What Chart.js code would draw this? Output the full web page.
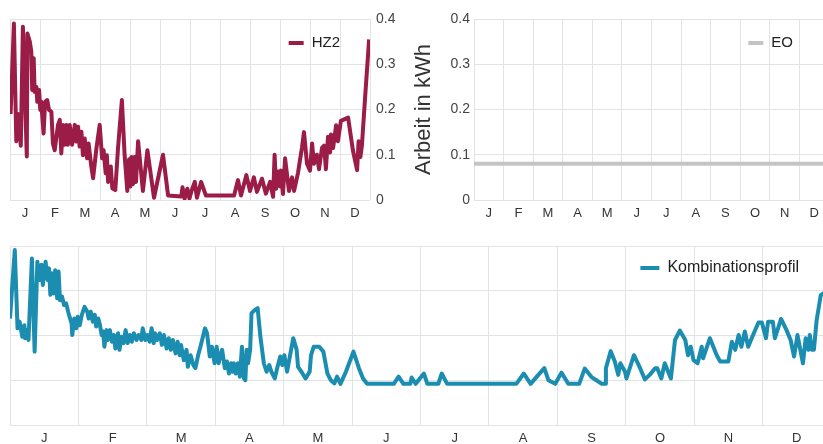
<!DOCTYPE html>
<html lang="de">
<head>
<meta charset="utf-8">
<script src="https://cdn.jsdelivr.net/npm/chart.js@4.4.1/dist/chart.umd.min.js"></script>
<style>
  html, body { margin: 0; padding: 0; background: #fff; overflow: hidden; }
  body { width: 823px; height: 444px; position: relative; }
  canvas { position: absolute; }
  #cHZ2 { left: 0; top: 0; }
  #cEO { left: 405px; top: 0; }
  #cKombi { left: 0; top: 228px; }
</style>
</head>
<body>
<canvas id="cHZ2" width="400" height="226"></canvas>
<canvas id="cEO" width="430" height="226"></canvas>
<canvas id="cKombi" width="840" height="216"></canvas>
<script>
// Monate (Achsenbeschriftung)
const months = ['J', 'F', 'M', 'A', 'M', 'J', 'J', 'A', 'S', 'O', 'N', 'D'];
const yTicks = [0, 0.1, 0.2, 0.3, 0.4];

// HZ2 - Position im Jahr (in Monaten) und Arbeit in kWh
const hz2Month = [
  0.02,0.13,0.21,0.27,0.36,0.43,0.56,0.58,0.66,0.71,
  0.74,0.79,0.82,0.88,0.91,0.97,1.01,1.04,1.12,1.17,
  1.24,1.3,1.38,1.43,1.49,1.6,1.66,1.71,1.77,1.82,
  1.88,1.93,1.99,2.07,2.16,2.21,2.27,2.32,2.38,2.43,
  2.49,2.57,2.62,2.71,2.77,2.88,2.99,3.07,3.12,3.19,
  3.23,3.27,3.36,3.41,3.51,3.6,3.73,3.82,3.91,3.97,
  4.01,4.05,4.1,4.15,4.2,4.27,4.43,4.58,4.8,5.1,
  5.27,5.71,5.75,5.82,5.91,5.98,6.05,6.16,6.23,6.37,
  6.53,7.47,7.6,7.7,7.88,8.0,8.13,8.23,8.4,8.53,
  8.67,8.77,8.82,8.87,8.93,9.0,9.03,9.1,9.17,9.3,
  9.4,9.47,9.6,9.73,9.8,9.9,10.0,10.07,10.13,10.23,
  10.3,10.4,10.47,10.53,10.6,10.67,10.7,10.77,10.87,10.93,
  11.03,11.27,11.43,11.57,11.62,11.68,11.73,11.83,11.97
];
const hz2Value = [
  0.19,0.39,0.13,0.19,0.12,0.383,0.096,0.368,0.35,0.328,
  0.243,0.313,0.239,0.25,0.217,0.243,0.199,0.217,0.147,0.217,
  0.221,0.199,0.195,0.125,0.11,0.166,0.177,0.103,0.166,0.122,
  0.166,0.122,0.166,0.122,0.166,0.129,0.162,0.118,0.151,0.099,
  0.136,0.092,0.125,0.074,0.048,0.114,0.166,0.092,0.11,0.059,
  0.099,0.04,0.074,0.026,0.022,0.114,0.221,0.1,0.02,0.09,
  0.03,0.095,0.035,0.095,0.04,0.13,0.02,0.11,0.005,0.1,
  0.01,0.008,0.028,0.003,0.025,0.003,0.02,0.04,0.005,0.04,
  0.01,0.01,0.044,0.01,0.055,0.02,0.05,0.018,0.047,0.014,
  0.04,0.007,0.1,0.025,0.063,0.03,0.065,0.013,0.092,0.02,
  0.05,0.02,0.06,0.115,0.15,0.08,0.065,0.125,0.08,0.1,
  0.068,0.115,0.12,0.068,0.14,0.105,0.145,0.115,0.165,0.13,
  0.175,0.182,0.11,0.066,0.13,0.095,0.12,0.22,0.355
];

// EO - konstante Grundlast
const eoMonth = [0, 12];
const eoValue = [0.08, 0.08];

// Kombinationsprofil
const kombiMonth = [
  0,0.07,0.11,0.14,0.18,0.21,0.22,0.25,0.27,0.32,
  0.36,0.4,0.43,0.46,0.48,0.52,0.55,0.57,0.59,0.61,
  0.64,0.66,0.69,0.71,0.73,0.76,0.79,0.82,0.85,0.87,
  0.9,0.91,0.94,0.97,0.99,1.02,1.05,1.09,1.13,1.15,
  1.18,1.21,1.24,1.26,1.29,1.31,1.34,1.36,1.38,1.41,
  1.43,1.46,1.49,1.52,1.54,1.58,1.6,1.63,1.66,1.69,
  1.72,1.75,1.78,1.81,1.85,1.88,1.92,1.94,1.98,2.01,
  2.04,2.07,2.1,2.12,2.15,2.19,2.22,2.25,2.29,2.32,
  2.35,2.38,2.42,2.45,2.48,2.5,2.54,2.58,2.6,2.64,
  2.68,2.71,2.75,2.79,2.85,2.88,2.92,2.95,2.99,3.02,
  3.05,3.08,3.1,3.14,3.17,3.2,3.23,3.25,3.27,3.3,
  3.33,3.36,3.39,3.42,3.44,3.46,3.48,3.51,3.53,3.58,
  3.62,3.66,3.71,3.75,3.79,3.82,3.87,3.91,3.95,3.98,
  4.01,4.05,4.09,4.14,4.19,4.21,4.26,4.32,4.38,4.4,
  4.44,4.52,4.58,4.64,4.69,4.74,4.78,4.83,4.91,5.02,
  5.1,5.16,5.22,5.61,5.68,5.75,5.85,5.87,5.93,5.99,
  6.05,6.1,6.26,6.31,6.39,7.4,7.51,7.61,7.7,7.81,
  7.87,7.97,8.06,8.16,8.32,8.4,8.5,8.57,8.65,8.7,
  8.71,8.78,8.84,8.89,8.92,8.99,9.01,9.12,9.21,9.28,
  9.35,9.43,9.46,9.52,9.57,9.66,9.72,9.79,9.87,9.91,
  9.95,9.99,10.05,10.11,10.13,10.23,10.33,10.38,10.5,10.55,
  10.6,10.65,10.69,10.74,10.79,10.85,10.94,10.99,11.05,11.08,
  11.15,11.18,11.27,11.35,11.41,11.46,11.51,11.59,11.63,11.67,
  11.69,11.72,11.75,11.79,11.85,11.95
];
const kombiValue = [
  0.238,0.391,0.216,0.231,0.197,0.223,0.194,0.212,0.19,0.372,
  0.164,0.365,0.324,0.358,0.313,0.365,0.324,0.35,0.291,0.339,
  0.294,0.346,0.283,0.343,0.279,0.287,0.268,0.272,0.253,0.242,
  0.227,0.201,0.238,0.216,0.242,0.223,0.246,0.264,0.253,0.238,
  0.253,0.231,0.246,0.22,0.238,0.227,0.201,0.209,0.175,0.212,
  0.19,0.212,0.186,0.201,0.171,0.205,0.168,0.197,0.183,0.212,
  0.183,0.201,0.186,0.205,0.19,0.201,0.19,0.216,0.19,0.201,
  0.186,0.216,0.183,0.205,0.19,0.205,0.179,0.201,0.171,0.194,
  0.168,0.19,0.16,0.186,0.156,0.179,0.145,0.168,0.13,0.156,
  0.134,0.127,0.156,0.179,0.216,0.205,0.153,0.175,0.138,0.175,
  0.138,0.16,0.168,0.127,0.142,0.115,0.138,0.119,0.138,0.115,
  0.138,0.108,0.175,0.104,0.1,0.168,0.138,0.168,0.25,0.257,
  0.261,0.197,0.138,0.119,0.134,0.119,0.104,0.13,0.153,0.134,
  0.156,0.119,0.153,0.194,0.168,0.13,0.119,0.104,0.119,0.156,
  0.175,0.175,0.164,0.115,0.1,0.093,0.108,0.092,0.119,0.164,
  0.127,0.104,0.092,0.092,0.108,0.092,0.092,0.106,0.092,0.104,
  0.115,0.092,0.092,0.115,0.092,0.092,0.115,0.092,0.108,0.127,
  0.1,0.092,0.117,0.092,0.092,0.126,0.107,0.1,0.092,0.092,
  0.127,0.165,0.142,0.112,0.138,0.119,0.104,0.156,0.127,0.102,
  0.112,0.127,0.127,0.104,0.138,0.104,0.19,0.211,0.19,0.156,
  0.175,0.145,0.138,0.175,0.149,0.194,0.156,0.142,0.142,0.186,
  0.168,0.201,0.175,0.209,0.175,0.197,0.229,0.229,0.194,0.231,
  0.231,0.194,0.237,0.212,0.19,0.153,0.201,0.138,0.194,0.168,
  0.201,0.168,0.168,0.234,0.29,0.3
];

const gridColor = '#e3e3e3';
Chart.defaults.font.family = '"Liberation Sans", Arial, Helvetica, sans-serif';
Chart.defaults.animation = false;

// Legende oben rechts im Diagrammbereich
const cornerLegend = {
  id: 'cornerLegend',
  afterDatasetsDraw(chart, args, opts) {
    const ds = chart.data.datasets[0];
    const ctx = chart.ctx;
    const a = chart.chartArea;
    ctx.save();
    ctx.font = opts.size + 'px ' + Chart.defaults.font.family;
    const w = ctx.measureText(ds.label).width;
    const tx = a.right - opts.right - w;
    const y = a.top + opts.top;
    ctx.strokeStyle = ds.borderColor;
    ctx.lineWidth = 4;
    ctx.beginPath();
    ctx.moveTo(tx - 8 - opts.box, y);
    ctx.lineTo(tx - 8, y);
    ctx.stroke();
    ctx.fillStyle = '#222';
    ctx.textBaseline = 'middle';
    ctx.fillText(ds.label, tx, y);
    ctx.restore();
  }
};

function monthAxis(pad, h) {
  return {
    type: 'linear', min: 0, max: 12,
    border: { display: false },
    grid: {
      drawTicks: false,
      color: c => Number.isInteger(c.tick.value) ? gridColor : 'rgba(0,0,0,0)'
    },
    ticks: {
      stepSize: 0.5, autoSkip: false, maxRotation: 0, padding: pad,
      color: '#333', font: { size: 13 },
      callback: v => (v % 1 === 0.5 ? months[Math.floor(v)] : '')
    },
    afterFit: s => { s.height = h; }
  };
}

function valueAxis(extra) {
  return Object.assign({
    min: yTicks[0], max: yTicks[yTicks.length - 1],
    border: { display: false },
    grid: { drawTicks: false, color: gridColor },
    afterBuildTicks: s => { s.ticks = yTicks.map(v => ({ value: v })); }
  }, extra);
}

function lineData(label, color, xs, ys, width) {
  return {
    datasets: [{
      label: label,
      data: xs.map((x, i) => ({ x: x, y: ys[i] })),
      borderColor: color,
      borderWidth: width,
      pointRadius: 0,
      tension: 0,
      borderJoinStyle: 'round'
    }]
  };
}

// HZ2
new Chart(document.getElementById('cHZ2'), {
  type: 'line',
  data: lineData('HZ2', '#9c1c48', hz2Month, hz2Value, 4),
  options: {
    responsive: false,
    layout: { padding: { left: 10, top: 19, right: 0, bottom: 0 } },
    plugins: {
      legend: { display: false }, tooltip: { enabled: false },
      cornerLegend: { size: 15, right: 30, top: 24, box: 15 }
    },
    scales: {
      x: monthAxis(6, 26),
      y: valueAxis({
        position: 'right',
        ticks: { padding: 6, color: '#444', font: { size: 14 } },
        afterFit: s => { s.width = 30; }
      })
    }
  },
  plugins: [cornerLegend]
});

// EO
new Chart(document.getElementById('cEO'), {
  type: 'line',
  data: lineData('EO', '#c4c4c4', eoMonth, eoValue, 4),
  options: {
    responsive: false,
    layout: { padding: { left: 0, top: 19, right: 0, bottom: 0 } },
    plugins: {
      legend: { display: false }, tooltip: { enabled: false },
      cornerLegend: { size: 15, right: 36, top: 24, box: 15 }
    },
    scales: {
      x: monthAxis(6, 26),
      y: valueAxis({
        position: 'left',
        ticks: { padding: 4, color: '#444', font: { size: 14 } },
        title: {
          display: true, text: 'Arbeit in kWh', color: '#333',
          font: { size: 22 }, padding: { top: 6, bottom: 0 }
        },
        afterFit: s => { s.width = 69; }
      })
    }
  },
  plugins: [cornerLegend]
});

// Kombinationsprofil
new Chart(document.getElementById('cKombi'), {
  type: 'line',
  data: lineData('Kombinationsprofil', '#1b8db1', kombiMonth, kombiValue, 4),
  options: {
    responsive: false,
    layout: { padding: { left: 10, top: 18, right: 9, bottom: 0 } },
    plugins: {
      legend: { display: false }, tooltip: { enabled: false },
      cornerLegend: { size: 16, right: 32, top: 22, box: 19 }
    },
    scales: {
      x: monthAxis(6, 19),
      y: valueAxis({
        ticks: { display: false },
        afterFit: s => { s.width = 0; }
      })
    }
  },
  plugins: [cornerLegend]
});
</script>
</body>
</html>
